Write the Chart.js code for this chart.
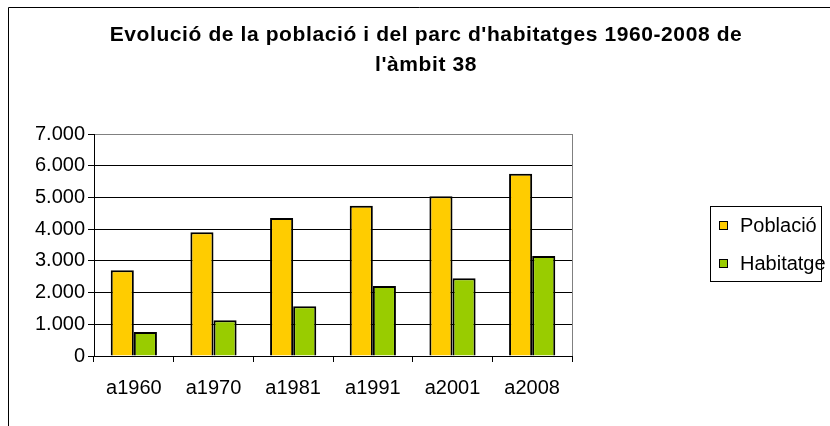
<!DOCTYPE html>
<html>
<head>
<meta charset="utf-8">
<script src="https://cdn.jsdelivr.net/npm/chart.js@4"></script>
<style>
  html, body { margin: 0; padding: 0; background: #fff; }
  #wrap { position: relative; width: 830px; height: 426px; }
</style>
</head>
<body>
<div id="wrap"><canvas id="barChart" width="830" height="426"></canvas></div>
<script>
const categories = ['a1960', 'a1970', 'a1981', 'a1991', 'a2001', 'a2008'];
const poblacio = [2700, 3900, 4350, 4740, 5040, 5750];
const habitatge = [760, 1130, 1570, 2210, 2450, 3150];
const titleLines = ["Evolució de la població i del parc d'habitatges 1960-2008 de", "l'àmbit 38"];
const seriesNames = ['Població', 'Habitatge'];

const FONT = '"Liberation Sans", Arial, sans-serif';

function fmt(v) {
  return String(v).replace(/\B(?=(\d{3})+(?!\d))/g, '.');
}

const decorPlugin = {
  id: 'decor',
  beforeDraw(chart) {
    const ctx = chart.ctx;
    ctx.save();
    ctx.fillStyle = '#fff';
    ctx.fillRect(0, 0, chart.width, chart.height);
    // outer frame
    ctx.strokeStyle = '#000';
    ctx.lineWidth = 1;
    ctx.beginPath();
    ctx.moveTo(8.5, chart.height);
    ctx.lineTo(8.5, 7.5);
    ctx.lineTo(chart.width, 7.5);
    ctx.stroke();
    ctx.restore();
  },
  afterDraw(chart) {
    const ctx = chart.ctx;
    const area = chart.chartArea;
    ctx.save();
    // plot area right border
    ctx.strokeStyle = '#808080';
    ctx.lineWidth = 1;
    ctx.beginPath();
    ctx.moveTo(Math.round(area.right) + 0.5, area.top);
    ctx.lineTo(Math.round(area.right) + 0.5, area.bottom);
    ctx.stroke();

    // title
    ctx.fillStyle = '#000';
    ctx.font = 'bold 21px ' + FONT;
    ctx.letterSpacing = '0.6px';
    ctx.textAlign = 'center';
    ctx.textBaseline = 'alphabetic';
    ctx.fillText(titleLines[0], 426, 41);
    ctx.fillText(titleLines[1], 426, 71);
    ctx.letterSpacing = '0px';

    // legend
    ctx.strokeStyle = '#000';
    ctx.strokeRect(710.5, 206.5, 111, 75);
    ctx.font = '20px ' + FONT;
    ctx.textAlign = 'left';
    const rows = [221, 259];
    chart.data.datasets.forEach((ds, i) => {
      ctx.fillStyle = ds.backgroundColor;
      ctx.fillRect(719, rows[i], 8, 8);
      ctx.strokeRect(719.5, rows[i] + 0.5, 8, 8);
      ctx.fillStyle = '#000';
      ctx.fillText(ds.label, 740, rows[i] + 11);
    });
    ctx.restore();
  }
};

new Chart(document.getElementById('barChart'), {
  type: 'bar',
  data: {
    labels: categories,
    datasets: [{
      label: seriesNames[0],
      data: poblacio,
      backgroundColor: '#FFCC00',
      borderColor: '#000',
      borderWidth: 2,
      categoryPercentage: 0.58,
      barPercentage: 1,
    }, {
      label: seriesNames[1],
      data: habitatge,
      backgroundColor: '#99CC00',
      borderColor: '#000',
      borderWidth: 2,
      categoryPercentage: 0.58,
      barPercentage: 1,
    }],
  },
  options: {
    responsive: false,
    animation: false,
    layout: { padding: { left: 0, right: 258, top: 134, bottom: 0 } },
    plugins: {
      legend: { display: false },
      title: { display: false },
      tooltip: { enabled: false },
    },
    scales: {
      x: {
        afterFit: (s) => { s.height = 70; },
        grid: { offset: true, drawOnChartArea: false, drawTicks: true, tickLength: 6, color: '#000' },
        border: { color: '#000', width: 1 },
        ticks: { color: '#000', font: { family: FONT, size: 20 }, padding: 14 },
      },
      y: {
        min: 0,
        max: 7000,
        afterFit: (s) => { s.width = 94; },
        grid: {
          color: (c) => (c.tick && c.tick.value === 7000 ? '#808080' : '#000'),
          tickColor: '#000',
          tickLength: 6,
        },
        border: { color: '#000', width: 1 },
        ticks: {
          stepSize: 1000,
          color: '#000',
          padding: 3,
          font: { family: FONT, size: 20 },
          callback: (v) => fmt(v),
        },
      },
    },
  },
  plugins: [decorPlugin],
});
</script>
</body>
</html>
